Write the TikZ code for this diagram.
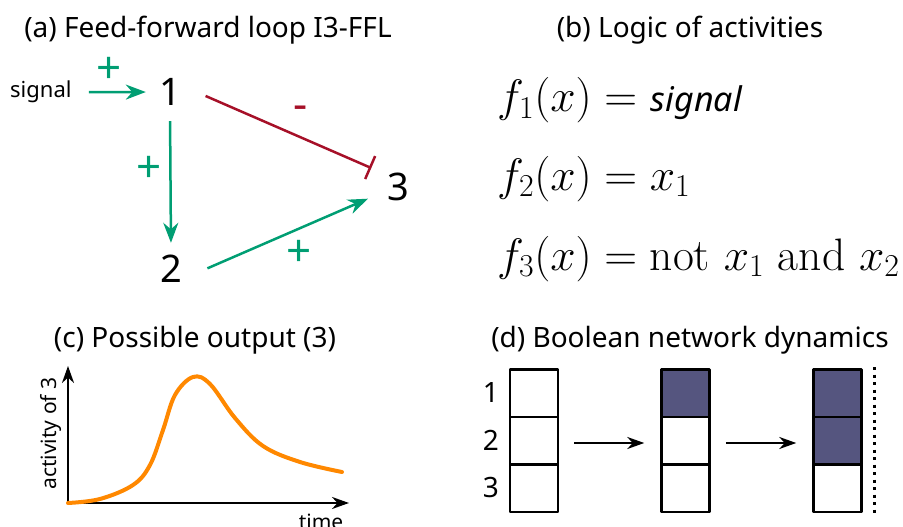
\RequirePackage{fix-cm}
\documentclass[tikz,border=0pt]{standalone}
\usepackage{fontspec}
\setsansfont{Noto Sans}
\usetikzlibrary{arrows.meta}
\definecolor{actgreen}{RGB}{0,158,115}
\definecolor{inhred}{RGB}{166,16,40}
\definecolor{curveorange}{RGB}{255,136,0}
\definecolor{onblue}{RGB}{85,85,127}
\begin{document}
\begin{tikzpicture}[x=1pt,y=-1pt,line cap=butt,line join=round,
  paneltitle/.style={inner sep=0pt,font=\sffamily\fontsize{28}{32}\selectfont},
  gene/.style={circle,inner sep=0pt,minimum size=40pt,font=\sffamily\fontsize{38}{42}\selectfont},
  sign/.style={inner sep=0pt,font=\sffamily\fontsize{44}{48}\selectfont},
  rule/.style={anchor=base west,inner sep=0pt,font=\fontsize{45.5}{52}\selectfont},
  act/.style={actgreen,line width=2.5pt,-{Stealth[length=20pt,width=15pt]}},
  inh/.style={inhred,line width=2.5pt,-{Bar[width=25pt]}},
  flow/.style={line width=2.5pt,-{Stealth[length=17pt,width=12pt]}},
  cell/.style={draw,line width=2.5pt,inner sep=0pt,minimum width=48pt,minimum height=47.5pt},
  small/.style={inner sep=0pt,font=\sffamily\fontsize{21}{24}\selectfont}]
  \useasboundingbox (0,0) rectangle (903,527);
  % (a) feed-forward loop
  \node[paneltitle] (ta) at (208,30) {(a) Feed-forward loop I3-FFL};
  \node[small,anchor=base west,font=\sffamily\fontsize{22}{26}\selectfont] (sig) at (10,98) {signal};
  \node[gene] (n1) at (170,92) {1};
  \node[gene] (n2) at (171,269) {2};
  \node[gene] (n3) at (398,187) {3};
  \draw[act,shorten <=17pt,shorten >=4pt] (sig.east) -- (n1.west);
  \draw[act,shorten <=9pt,shorten >=6pt] (n1.south) -- (n2.north);
  \draw[act,shorten <=19pt,shorten >=12pt] (n2.-20) -- (n3.200);
  \draw[inh,shorten <=17pt,shorten >=13pt] (n1.8) -- (n3.137);
  \node[sign,text=actgreen] (p1) at (109,70) {+};
  \node[sign,text=actgreen] (p2) at (149,169) {+};
  \node[sign,text=actgreen] (p3) at (299,253) {+};
  \node[sign,text=inhred] (m1) at (301,113) {-};
  % (b) update rules
  \node[paneltitle] (tb) at (690,30) {(b) Logic of activities};
  \node[rule] (f1) at (497,112) {$f_1(x) =$ {\sffamily\itshape\fontsize{34}{40}\selectfont signal}};
  \node[rule] (f2) at (497,190) {$f_2(x) = x_1$};
  \node[rule] (f3) at (497,270) {$f_3(x) = \mathrm{not}\ x_1\ \mathrm{and}\ x_2$};
  % (c) output
  \node[paneltitle] (tc) at (195,340) {(c) Possible output (3)};
  \coordinate (o) at (68,503);
  \draw[flow] (o) -- (68,366);
  \draw[flow] (o) -- (349,503);
  \node[small,rotate=90] (ylab) at (50.5,433.5) {activity of 3};
  \node[small,anchor=base] (xlab) at (321,529) {time};
  \draw[curveorange,line width=4pt,line cap=round] plot[smooth,tension=0.6] coordinates
    {(68,503) (100,499) (133,485) (150,465) (163,430) (175,395) (193,377) (210,384)
     (235,418) (263,446) (300,462) (342,472)};
  % (d) boolean states
  \node[paneltitle] (td) at (690,340) {(d) Boolean network dynamics};
  \node[small,font=\sffamily\fontsize{28}{32}\selectfont] (r1) at (491,393) {1};
  \node[small,font=\sffamily\fontsize{28}{32}\selectfont] (r2) at (491,440) {2};
  \node[small,font=\sffamily\fontsize{28}{32}\selectfont] (r3) at (491,488) {3};
  \node[cell] (c11) at (534,393) {};
  \node[cell] (c12) at (534,440.5) {};
  \node[cell] (c13) at (534,488) {};
  \node[cell,fill=onblue] (c21) at (685.5,393) {};
  \node[cell] (c22) at (685.5,440.5) {};
  \node[cell] (c23) at (685.5,488) {};
  \node[cell,fill=onblue] (c31) at (837.5,393) {};
  \node[cell,fill=onblue] (c32) at (837.5,440.5) {};
  \node[cell] (c33) at (837.5,488) {};
  \draw[flow,shorten <=15pt,shorten >=16pt] ([yshift=-2.5pt]c12.east) -- ([yshift=-2.5pt]c22.west);
  \draw[flow,shorten <=15pt,shorten >=16pt] ([yshift=-2.5pt]c22.east) -- ([yshift=-2.5pt]c32.west);
  \draw[line width=3pt,dash pattern=on 3pt off 4.5pt] (874,367) -- (874,516);
\end{tikzpicture}
\end{document}
